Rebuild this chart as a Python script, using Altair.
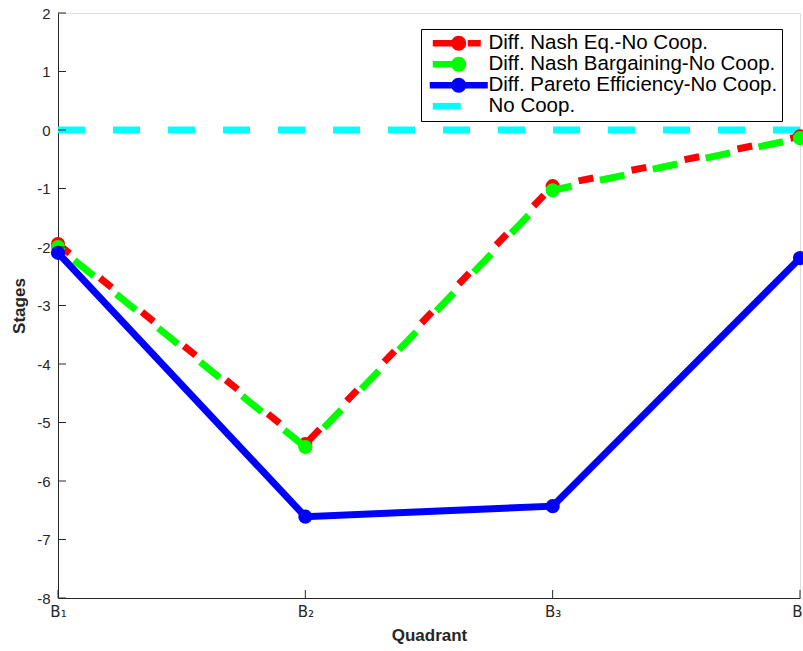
import altair as alt
import pandas as pd

# ---- data ----
quadrants = ["B₁", "B₂", "B₃", "B₄"]
series_names = [
    "Diff. Nash Eq.-No Coop.",
    "Diff. Nash Bargaining-No Coop.",
    "Diff. Pareto Efficiency-No Coop.",
    "No Coop.",
]
nash_eq = [-1.95, -5.37, -0.96, -0.11]
nash_barg = [-2.0, -5.42, -1.03, -0.14]
pareto = [-2.1, -6.61, -6.43, -2.19]
no_coop = [0, 0, 0, 0]
y_ticks = list(range(-8, 3))

colors = ["#ff0000", "#00ff00", "#0000ff", "#00ffff"]

# legend glyphs (line + marker samples); drawn beyond the unit square on purpose
def rect(x0, x1, h=0.35):
    return f"M{x0},{-h}H{x1}V{h}H{x0}Z"

cx, r = 2.47, 0.79
circ = f"M{cx + r},0A{r},{r},0,1,1,{cx - r},0A{r},{r},0,1,1,{cx + r},0Z"
legend_paths = [
    rect(-0.26, cx) + circ + rect(3.42, 4.79),
    rect(-0.26, cx) + circ,
    rect(-0.58, 5.53) + circ,
    rect(-0.26, 2.68),
]

values = [nash_eq, nash_barg, pareto, no_coop]
rows = []
for s, vals in zip(series_names, values):
    for q, v in zip(quadrants, vals):
        rows.append({"series": s, "quadrant": q, "value": v})
df = pd.DataFrame(rows)

AX = "#262626"
FONT = "Liberation Sans"

x_enc = alt.X(
    "quadrant:N",
    sort=quadrants,
    scale=alt.Scale(domain=quadrants, type="point", padding=0),
    axis=alt.Axis(
        title="Quadrant", titleFontSize=17, titleFontWeight="bold", titleColor=AX,
        titleFont=FONT, titlePadding=8, labelFont="DejaVu Sans", labelFontSize=15,
        labelColor=AX, labelPadding=6, labelAngle=0, tickSize=0,
        domainColor=AX, grid=False,
    ),
)
y_enc = alt.Y(
    "value:Q",
    scale=alt.Scale(domain=[-8, 2], nice=False, zero=False),
    axis=alt.Axis(
        title="Stages", titleFontSize=17, titleFontWeight="bold", titleColor=AX,
        titleFont=FONT, titlePadding=8, values=y_ticks, labelExpr="'' + datum.value",
        labelFont=FONT, labelFontSize=15, labelColor=AX, labelPadding=8,
        tickSize=0, domainColor=AX, grid=False,
    ),
)

layers = []

# No Coop dashed cyan
layers.append(
    alt.Chart(df[df.series == series_names[3]])
    .mark_line(color=colors[3], strokeWidth=7, strokeDash=[27, 28], strokeCap="butt")
    .encode(x=x_enc, y=y_enc)
)

dash_spec = [
    dict(strokeDash=[15, 39]),
    dict(strokeDash=[25, 29], strokeDashOffset=33),
    dict(),
]
for i in range(3):
    sub = df[df.series == series_names[i]]
    layers.append(
        alt.Chart(sub)
        .mark_line(color=colors[i], strokeWidth=7, strokeCap="butt", **dash_spec[i])
        .encode(x=x_enc, y=y_enc)
    )
    layers.append(
        alt.Chart(sub)
        .mark_point(filled=True, size=200, opacity=1, color=colors[i])
        .encode(x=x_enc, y=y_enc)
    )

# inward ticks
layers.append(
    alt.Chart(pd.DataFrame({"value": y_ticks}))
    .mark_rule(color=AX, strokeWidth=1)
    .encode(y=y_enc, x=alt.value(0), x2=alt.value(8))
)
layers.append(
    alt.Chart(pd.DataFrame({"quadrant": quadrants}))
    .mark_rule(color=AX, strokeWidth=1)
    .encode(x=x_enc, y=alt.value(585), y2=alt.value(577))
)

# legend carrier layer (no marks drawn)
leg = alt.Legend(
    title=None, orient="none", legendX=363, legendY=16,
    labelFont=FONT, labelFontSize=20.5, labelLimit=0, labelColor="black",
    symbolSize=361, strokeColor="black", fillColor="white",
    padding=4, rowPadding=-2, labelOffset=43, symbolStrokeWidth=0,
)
layers.append(
    alt.Chart(df)
    .mark_point(filled=True, opacity=1)
    .encode(
        x=x_enc, y=y_enc,
        color=alt.Color("series:N", scale=alt.Scale(domain=series_names, range=colors), legend=leg),
        shape=alt.Shape("series:N", scale=alt.Scale(domain=series_names, range=legend_paths), legend=leg),
    )
    .transform_filter("false")
)

chart = (
    alt.layer(*layers)
    .properties(
        width=742, height=585,
        autosize=alt.AutoSizeParams(type="none"),
        padding={"left": 58, "top": 13, "right": 3, "bottom": 53},
    )
    .configure_view(stroke=None)
    .configure(background="white")
)

chart.save("out.html", embed_options={"renderer": "svg", "actions": False})
